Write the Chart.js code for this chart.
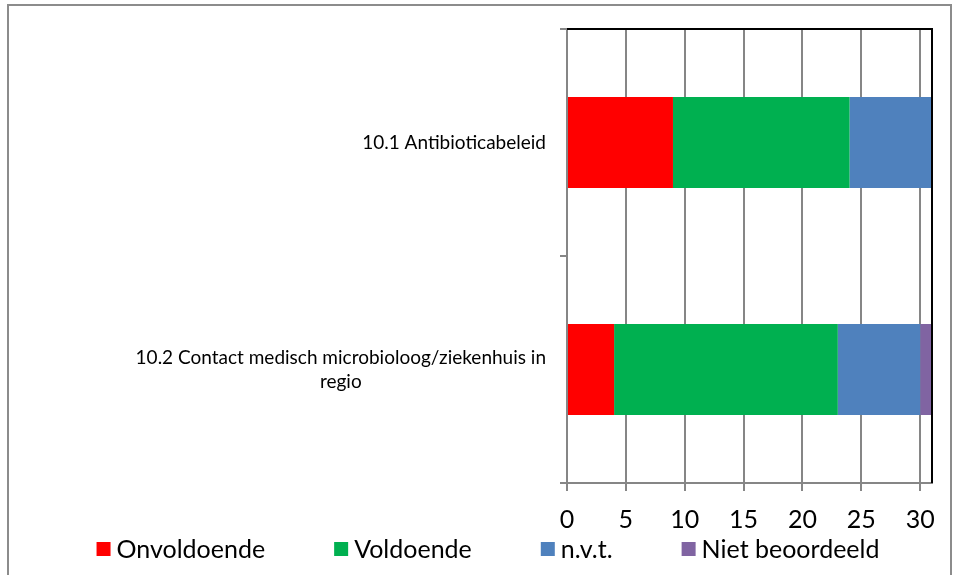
<!DOCTYPE html>
<html>
<head>
<meta charset="utf-8">
<script src="https://cdn.jsdelivr.net/npm/chart.js@4/dist/chart.umd.min.js"></script>
<style>
  body { margin: 0; background: #fff; }
  #frame { position: absolute; left: 7px; top: 4px; width: 945px; height: 600px; border: 2px solid #8c8c8c; box-sizing: border-box; }
  #wrap { position: absolute; left: 0; top: 0; width: 958px; height: 575px; }
</style>
</head>
<body>
<div id="frame"></div>
<div id="wrap"><canvas id="chart" width="958" height="575"></canvas></div>
<script>
// categories and series (counts)
const categories = [
    ["10.1 Antibioticabeleid"],
    ["10.2 Contact medisch microbioloog/ziekenhuis in", "regio"]
];
const onvoldoende = [9, 4];
const voldoende = [15, 19];
const nvt = [7, 7];
const nietBeoordeeld = [0, 1];
const xTicks = [0, 5, 10, 15, 20, 25, 30];

const FONT = "Lato, sans-serif";

// category labels: lines centered on each other, block right edge near the axis
const catLabels = {
    id: "catLabels",
    afterDraw(chart) {
        const ctx = chart.ctx;
        const y = chart.scales.y;
        ctx.save();
        ctx.font = "19px " + FONT;
        ctx.fillStyle = "#000";
        ctx.textAlign = "center";
        ctx.textBaseline = "middle";
        const right = y.right - 21;
        categories.forEach((lines, i) => {
            const w = Math.max(...lines.map(l => ctx.measureText(l).width));
            const cx = right - w / 2;
            const cy = y.getPixelForValue(i);
            const lh = 24;
            const top = cy - (lines.length - 1) * lh / 2;
            lines.forEach((l, j) => ctx.fillText(l, cx, top + j * lh));
        });
        ctx.restore();
    }
};

// black top and right edge of the plot area
const plotEdge = {
    id: "plotEdge",
    afterDatasetsDraw(chart) {
        const a = chart.chartArea;
        const ctx = chart.ctx;
        ctx.save();
        ctx.strokeStyle = "#000";
        ctx.lineWidth = 2;
        ctx.beginPath();
        ctx.moveTo(a.left, a.top);
        ctx.lineTo(a.right, a.top);
        ctx.lineTo(a.right, a.bottom);
        ctx.stroke();
        ctx.restore();
    }
};

// legend row along the bottom
const bottomLegend = {
    id: "bottomLegend",
    afterDraw(chart) {
        const ctx = chart.ctx;
        ctx.save();
        ctx.font = "25px " + FONT;
        ctx.textBaseline = "middle";
        const box = 14, gap = 6, itemGap = 69, cy = 549;
        const items = chart.data.datasets.map(d => ({ text: d.label, color: d.backgroundColor, w: ctx.measureText(d.label).width }));
        const total = items.reduce((s, it) => s + box + gap + it.w, 0) + itemGap * (items.length - 1);
        let x = 488 - total / 2;
        items.forEach(it => {
            ctx.fillStyle = it.color;
            ctx.fillRect(x, cy - box / 2, box, box);
            ctx.fillStyle = "#000";
            ctx.fillText(it.text, x + box + gap, cy + 1);
            x += box + gap + it.w + itemGap;
        });
        ctx.restore();
    }
};

const ctx = document.getElementById("chart").getContext("2d");
new Chart(ctx, {
    type: "bar",
    data: {
        labels: categories.map(c => c.join(" ")),
        datasets: [
            { label: "Onvoldoende", data: onvoldoende, backgroundColor: "#ff0000" },
            { label: "Voldoende", data: voldoende, backgroundColor: "#00b050" },
            { label: "n.v.t.", data: nvt, backgroundColor: "#4f81bd" },
            { label: "Niet beoordeeld", data: nietBeoordeeld, backgroundColor: "#8064a2" }
        ]
    },
    options: {
        indexAxis: "y",
        responsive: false,
        animation: false,
        categoryPercentage: 0.4,
        barPercentage: 1.0,
        layout: { padding: { top: 29, right: 26, left: 0, bottom: 42 } },
        scales: {
            x: {
                stacked: true,
                min: 0,
                max: 31,
                afterBuildTicks: s => { s.ticks = xTicks.map(v => ({ value: v })); },
                afterFit: s => { s.height = 50; },
                grid: { color: "#868686", lineWidth: 2, tickLength: 8, drawOnChartArea: true },
                border: { color: "#868686", width: 2 },
                ticks: { color: "#000", font: { family: FONT, size: 25 }, padding: 14 }
            },
            y: {
                stacked: true,
                afterFit: s => { s.width = 567; },
                grid: { display: true, drawOnChartArea: false, offset: true, tickLength: 7, color: "#868686", lineWidth: 2 },
                border: { color: "#868686", width: 2 },
                ticks: { display: false }
            }
        },
        plugins: {
            legend: { display: false },
            tooltip: { enabled: false }
        }
    },
    plugins: [catLabels, plotEdge, bottomLegend]
});
</script>
</body>
</html>
